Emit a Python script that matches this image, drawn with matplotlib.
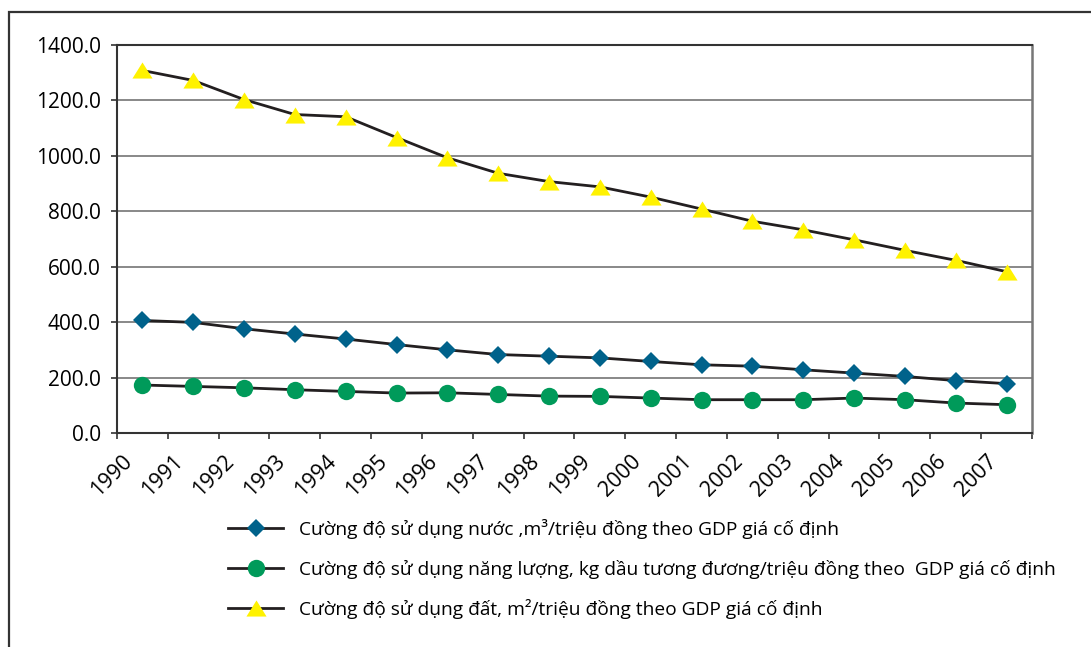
import matplotlib
matplotlib.use("Agg")
import matplotlib.pyplot as plt
import matplotlib.transforms as mtransforms
from matplotlib.patches import Rectangle
from matplotlib.ticker import FixedLocator, FuncFormatter
import numpy as np

plt.rcParams['font.family'] = ['Open Sans', 'DejaVu Sans']

# Data
years = [str(y) for y in range(1990, 2008)]
water = [406, 399, 376, 357, 339, 319, 300, 283, 277, 271, 258, 246, 241, 228, 216, 204, 189, 178]
energy = [173, 168, 163, 156, 150, 144, 145, 139, 133, 132, 126, 120, 120, 120, 126, 120, 108, 102]
land = [1308, 1272, 1203, 1149, 1141, 1066, 993, 937, 907, 888, 851, 808, 764, 733, 697, 659, 623, 582]

labels = [
    "Cường độ sử dụng nước ,m³/triệu đồng theo GDP giá cố định",
    "Cường độ sử dụng năng lượng, kg dầu tương đương/triệu đồng theo  GDP giá cố định",
    "Cường độ sử dụng đất, m²/triệu đồng theo GDP giá cố định",
]

line_color = "#231f20"
blue = "#00628b"
green = "#009a5a"
yellow = "#fff200"

fig = plt.figure(figsize=(10.91, 6.47), dpi=100)
ax = fig.add_axes([0.1072, 0.3308, 0.8387, 0.5997])

x = np.arange(len(years))

# flattened triangle marker
tri = [(-1, -0.8), (1, -0.8), (0, 0.8)]

ax.plot(x, water, color=line_color, lw=2.0, marker="D", ms=9,
        mfc=blue, mec=blue, mew=0, label=labels[0], zorder=3)
ax.plot(x, energy, color=line_color, lw=2.0, marker="o", ms=12.5,
        mfc=green, mec=green, mew=0, label=labels[1], zorder=3)
ax.plot(x, land, color=line_color, lw=2.0, marker=tri, ms=14.5,
        mfc=yellow, mec=yellow, mew=0, label=labels[2], zorder=3)

# Axes ranges and grid
ax.set_xlim(-0.5, len(years) - 0.5)
ax.set_ylim(0, 1400)
ax.set_yticks(np.arange(0, 1401, 200))
ax.yaxis.set_major_formatter(FuncFormatter(lambda v, p: f"{v:.1f}"))
ax.grid(axis="y", color="#7f7f7f", lw=1.3, zorder=0)

# category boundaries get the tick marks, labels sit on the centres
ax.xaxis.set_major_locator(FixedLocator(np.arange(-0.5, len(years), 1.0)))
ax.xaxis.set_major_formatter(FuncFormatter(lambda v, p: ""))
ax.xaxis.set_minor_locator(FixedLocator(x))
ax.set_xticklabels(years, minor=True)
ax.tick_params(axis="x", which="minor", length=0, pad=18, labelsize=15.5)
ax.tick_params(axis="x", which="major", length=4, width=1.2, color="#333333", direction="out")
ax.tick_params(axis="y", length=4.5, width=1.2, color="#333333", pad=7, labelsize=15)
shift = mtransforms.ScaledTranslation(-13 / 100, 0, fig.dpi_scale_trans)
for lab in ax.get_xticklabels(minor=True):
    lab.set_rotation(45)
    lab.set_ha("right")
    lab.set_va("center")
    lab.set_rotation_mode("anchor")
    lab.set_transform(lab.get_transform() + shift)

for side in ["left", "bottom", "top"]:
    ax.spines[side].set_color("#333333")
    ax.spines[side].set_linewidth(1.5)
ax.spines["right"].set_color("#777777")
ax.spines["right"].set_linewidth(1.8)

# Legend below the plot
fig.legend(loc="upper left", bbox_to_anchor=(0.209, 0.1976), frameon=False,
           fontsize=13.8, handlelength=2.87, handletextpad=0.83, labelspacing=1.06,
           borderpad=0, borderaxespad=0)

# Outer frame (top and left edges visible)
fig.add_artist(Rectangle((9 / 1091, -0.1), 1.2, 1.1 - 12 / 647,
                         transform=fig.transFigure, fill=False,
                         edgecolor="#333333", lw=1.6))

fig.savefig("out.png", dpi=100)
